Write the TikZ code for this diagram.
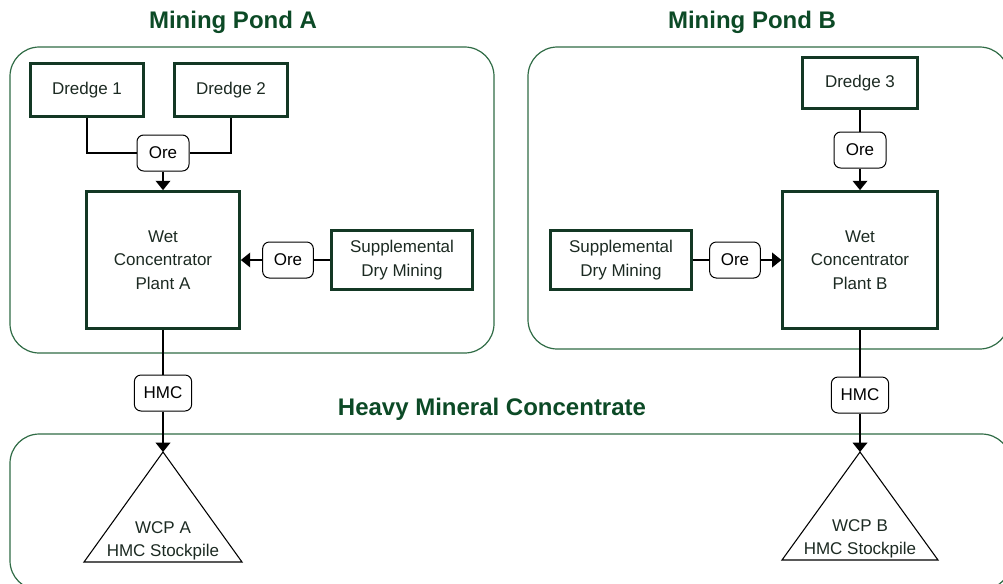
\documentclass[tikz,border=0pt]{standalone}
\usepackage{fontspec}
\setmainfont{Liberation Sans}
\usepackage{xcolor}
\definecolor{colorTitle}{HTML}{0C4A26}
\definecolor{colorPond}{HTML}{2F6B45}
\definecolor{colorBox}{HTML}{133824}
\definecolor{colorText}{HTML}{1C2A22}
\usepackage{tikz}
\usetikzlibrary{arrows.meta, positioning}
\tikzset{
  pond/.style={draw=colorPond, line width=0.9pt, rounded corners=22pt},
  title/.style={text=colorTitle, font=\fontsize{18}{22}\selectfont\bfseries},
  unit/.style={draw=colorBox, line width=1.8pt, text=colorText, align=center,
    font=\fontsize{12.75}{17.5}\selectfont},
  flow/.style={draw=black, line width=0.75pt, rounded corners=5pt, fill=white,
    minimum width=39pt, minimum height=27pt, inner sep=1pt,
    font=\fontsize{12.75}{17.5}\selectfont},
  pile/.style={draw=black, line width=0.8pt},
  link/.style={draw=black, line width=1.1pt}
}

\begin{document}
\begin{tikzpicture}[x=0.75pt, y=-0.75pt, >={Triangle[width=11pt, length=7pt]}]
\clip (0,0) rectangle (1003,583);
% ponds
\draw[pond] (10,47) rectangle (494,353);
\draw[pond] (528,47) rectangle (1009,349);
\draw[pond] (10,434) rectangle (1011,590);
\node[title] (tA) at (233,22) {Mining Pond A};
\node[title] (tB) at (752,22) {Mining Pond B};
\node[title] (tC) at (492,409) {Heavy Mineral Concentrate};
% pond A
\node[unit, minimum width=85pt, minimum height=40pt] (d1) at (87,90) {Dredge 1};
\node[unit, minimum width=85pt, minimum height=40pt] (d2) at (231,90) {Dredge 2};
\node[flow] (oreA1) at (163,153) {Ore};
\node[unit, minimum width=115pt, minimum height=103pt] (wcpA) at (163,260) {Wet\\Concentrator\\Plant A};
\node[flow, minimum width=38pt] (oreA2) at (288,260) {Ore};
\node[unit, minimum width=106pt, minimum height=44pt] (suppA) at (402,260) {Supplemental\\Dry Mining};
\node[flow, minimum width=43pt] (hmcA) at (163,393) {HMC};
\coordinate (pileA) at (163,452);
\draw[pile] (pileA) -- ++(79,110) -- ++(-158,0) -- cycle;
\node[align=center, text=colorText, font=\fontsize{12.75}{17.5}\selectfont] (txtA) at (163,541) {WCP A\\HMC Stockpile};
% pond B
\node[unit, minimum width=86pt, minimum height=38pt] (d3) at (860,83) {Dredge 3};
\node[flow] (oreB1) at (860,150) {Ore};
\node[unit, minimum width=116pt, minimum height=103pt] (wcpB) at (860,260) {Wet\\Concentrator\\Plant B};
\node[flow, minimum width=38pt] (oreB2) at (735,260) {Ore};
\node[unit, minimum width=106pt, minimum height=44pt] (suppB) at (621,260) {Supplemental\\Dry Mining};
\node[flow, minimum width=43pt] (hmcB) at (860,395) {HMC};
\coordinate (pileB) at (860,452);
\draw[pile] (pileB) -- ++(78,108) -- ++(-156,0) -- cycle;
\node[align=center, text=colorText, font=\fontsize{12.75}{17.5}\selectfont] (txtB) at (860,539) {WCP B\\HMC Stockpile};
% connectors
\draw[link] (d1.south) |- (oreA1.west);
\draw[link] (d2.south) |- (oreA1.east);
\draw[link, ->] (oreA1.south) -- (wcpA.north);
\draw[link] (suppA.west) -- (oreA2.east);
\draw[link, ->] (oreA2.west) -- (wcpA.east);
\draw[link] (wcpA.south) -- (hmcA.north);
\draw[link, ->] (hmcA.south) -- (pileA);
\draw[link] (d3.south) -- (oreB1.north);
\draw[link, ->] (oreB1.south) -- (wcpB.north);
\draw[link] (suppB.east) -- (oreB2.west);
\draw[link, ->] (oreB2.east) -- (wcpB.west);
\draw[link] (wcpB.south) -- (hmcB.north);
\draw[link, ->] (hmcB.south) -- (pileB);
\end{tikzpicture}
\end{document}
